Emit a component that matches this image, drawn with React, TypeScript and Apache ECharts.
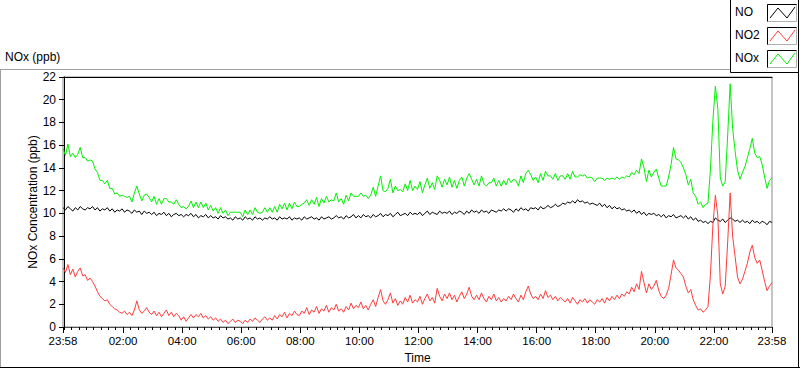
import React, { useEffect, useRef } from "react";
import * as echarts from "echarts";

// ---- data -------------------------------------------------------------
const seriesNames = ["NO", "NO2", "NOx"];
const seriesColors = ["#000000", "#ff3b3b", "#00f000"];

// samples every 5 minutes, first sample at 23:58 of previous day (minute -2)
const startMinute = -2;
const stepMinutes = 5;

const xMin = -2;
const xMax = 1438;
const majorTickMinutes = [-2, 120, 240, 360, 480, 600, 720, 840, 960, 1080, 1200, 1320, 1438];
const majorTickLabels = ["23:58", "02:00", "04:00", "06:00", "08:00", "10:00", "12:00", "14:00", "16:00", "18:00", "20:00", "22:00", "23:58"];

const noValues = [
  10.5, 10.3, 10.6, 10.4, 10.2, 10.5, 10.3, 10.6, 10.4, 10.3, 10.5, 10.4,
  10.6, 10.3, 10.5, 10.2, 10.4, 10.3, 10.5, 10.2, 10.4, 10.1, 10.3, 10.2,
  10.4, 10.1, 10.3, 10.2, 10.0, 10.3, 10.1, 10.2, 9.9, 10.2, 10.0, 10.1,
  9.9, 10.1, 9.8, 10.0, 9.9, 10.1, 9.8, 10.0, 9.7, 9.9, 10.0, 9.8,
  9.9, 9.7, 9.9, 9.8, 10.0, 9.7, 9.9, 9.6, 9.8, 9.7, 9.9, 9.6,
  9.8, 9.6, 9.7, 9.5, 9.8, 9.6, 9.7, 9.5, 9.6, 9.4, 9.7, 9.5,
  9.6, 9.4, 9.7, 9.5, 9.6, 9.4, 9.7, 9.5, 9.6, 9.4, 9.6, 9.5,
  9.7, 9.5, 9.6, 9.4, 9.7, 9.5, 9.6, 9.5, 9.7, 9.4, 9.6, 9.5,
  9.6, 9.4, 9.7, 9.5, 9.6, 9.7, 9.5, 9.6, 9.4, 9.7, 9.5, 9.6,
  9.7, 9.5, 9.6, 9.8, 9.6, 9.7, 9.5, 9.8, 9.6, 9.7, 9.9, 9.6,
  9.8, 9.6, 9.9, 9.7, 9.8, 9.6, 9.9, 9.7, 9.8, 10.0, 9.7, 9.9,
  9.8, 10.0, 9.7, 9.9, 10.1, 9.8, 9.9, 10.0, 9.8, 10.1, 9.9, 10.0,
  9.9, 10.1, 9.8, 10.0, 10.2, 9.9, 10.1, 10.0, 9.9, 10.2, 10.0, 10.1,
  10.0, 10.2, 9.9, 10.1, 10.0, 10.2, 10.1, 9.9, 10.2, 10.0, 10.3, 10.1,
  10.2, 10.0, 10.3, 10.1, 10.2, 10.0, 10.3, 10.2, 10.1, 10.3, 10.2, 10.4,
  10.2, 10.4, 10.3, 10.1, 10.4, 10.2, 10.5, 10.3, 10.4, 10.2, 10.5, 10.4,
  10.5, 10.3, 10.6, 10.4, 10.5, 10.7, 10.5, 10.6, 10.8, 10.6, 10.7, 10.9,
  10.8, 11.0, 10.9, 11.1, 10.9, 11.2, 11.0, 11.1, 10.9, 11.0, 10.8, 10.9,
  10.8, 10.7, 10.9, 10.6, 10.8, 10.5, 10.7, 10.4, 10.6, 10.4, 10.5, 10.3,
  10.4, 10.2, 10.3, 10.1, 10.3, 10.0, 10.2, 9.9, 10.1, 9.8, 10.0, 9.9,
  10.0, 9.8, 9.9, 9.7, 9.9, 9.6, 9.8, 9.7, 9.9, 9.6, 9.7, 9.8,
  9.6, 9.8, 9.5, 9.7, 9.4, 9.6, 9.3, 9.4, 9.2, 9.3, 9.1, 9.3,
  9.2, 9.6, 9.4, 9.3, 9.5, 9.2, 9.4, 9.6, 9.5, 9.3, 9.4, 9.2,
  9.4, 9.2, 9.3, 9.1, 9.4, 9.2, 9.3, 9.1, 9.3, 9.2, 9.0, 9.3,
  9.2,
];

const no2Values = [
  5.2, 4.8, 5.5, 4.6, 5.1, 4.4, 4.9, 5.2, 4.5, 4.6, 4.1, 4.3,
  4.0, 3.6, 3.1, 2.7, 2.5, 2.3, 2.4, 2.0, 1.8, 1.6, 1.5, 1.3,
  1.2, 1.4, 1.1, 1.3, 1.0, 1.5, 2.3, 1.5, 1.2, 1.4, 1.7, 1.3,
  1.1, 1.4, 1.0, 1.3, 0.9, 1.2, 1.5, 1.0, 1.3, 0.9, 1.2, 1.0,
  0.6, 0.9, 0.5, 0.8, 1.1, 0.8, 1.1, 0.9, 1.2, 0.8, 1.0, 0.7,
  0.9, 0.6, 0.8, 0.5, 0.7, 0.4, 0.6, 0.3, 0.5, 0.7, 0.4, 0.6,
  0.5, 0.3, 0.6, 0.4, 0.7, 0.5, 0.8, 0.6, 0.4, 0.7, 0.9, 0.6,
  0.8, 0.6, 1.0, 0.7, 1.1, 0.9, 1.3, 0.8, 1.2, 1.0, 1.4, 1.1,
  1.0, 1.4, 1.2, 1.7, 1.1, 1.5, 1.3, 1.8, 1.2, 1.6, 1.4, 1.9,
  1.3, 1.7, 1.5, 2.0, 1.4, 1.6, 1.3, 1.8, 1.5, 2.1, 1.6, 1.9,
  1.7, 2.2, 1.6, 1.9, 1.5, 2.0, 2.4, 1.8, 2.6, 3.3, 2.3, 2.0,
  2.4, 3.0, 2.1, 2.5, 1.9, 2.3, 2.0, 2.6, 2.2, 2.8, 2.1, 2.4,
  2.2, 2.7, 2.0, 2.5, 2.9, 2.3, 2.6, 2.1, 3.4, 2.7, 2.3, 2.9,
  2.5, 3.0, 2.4, 2.8, 2.2, 2.7, 3.1, 2.5, 2.9, 3.5, 2.7, 2.4,
  2.8, 2.4, 3.0, 2.5, 2.2, 2.7, 2.4, 2.9, 2.3, 2.6, 2.2, 2.5,
  2.3, 2.7, 2.4, 2.9, 2.5, 2.2, 2.8, 2.4, 3.1, 3.6, 2.9, 2.5,
  2.7, 2.4, 2.9, 2.5, 3.2, 2.6, 2.8, 2.4, 2.7, 2.3, 2.6, 2.4,
  2.2, 2.5, 2.1, 2.6, 2.3, 2.0, 2.4, 2.2, 2.5, 2.1, 2.4, 2.2,
  2.0, 2.4, 2.2, 2.5, 2.1, 2.6, 2.3, 2.7, 2.4, 2.8, 2.5, 2.9,
  2.7, 3.1, 2.9, 3.5, 3.1, 3.8, 3.3, 4.9, 3.9, 3.0, 3.8, 3.3,
  3.6, 4.1, 3.2, 2.7, 2.5, 2.8, 3.4, 4.6, 5.9, 5.2, 5.0, 4.7,
  4.4, 3.6, 3.0, 3.3, 2.4, 1.9, 1.5, 1.6, 1.3, 1.5, 1.8, 4.6,
  9.0, 11.6, 9.8, 3.8, 2.9, 3.6, 7.5, 11.8, 8.0, 6.2, 4.4, 3.8,
  4.2, 4.9, 5.6, 6.6, 7.2, 6.1, 5.6, 5.9, 5.0, 4.0, 3.2, 3.6,
  3.9,
];

const noxValues = [
  15.7, 15.1, 16.1, 15.0, 15.3, 14.9, 15.2, 15.8, 14.9, 14.9, 14.6, 14.7,
  14.6, 13.9, 13.6, 12.9, 12.9, 12.6, 12.9, 12.2, 12.2, 11.7, 11.8, 11.5,
  11.6, 11.5, 11.4, 11.5, 11.0, 11.8, 12.4, 11.7, 11.1, 11.6, 11.7, 11.4,
  11.0, 11.5, 10.8, 11.3, 10.8, 11.3, 11.3, 11.0, 11.0, 10.8, 11.2, 10.8,
  10.5, 10.6, 10.4, 10.6, 11.1, 10.5, 11.0, 10.5, 11.0, 10.5, 10.9, 10.3,
  10.7, 10.2, 10.5, 10.0, 10.5, 10.0, 10.3, 9.8, 10.1, 10.1, 10.1, 10.1,
  10.1, 9.7, 10.3, 9.9, 10.3, 9.9, 10.5, 10.1, 10.0, 10.1, 10.5, 10.1,
  10.5, 10.1, 10.6, 10.1, 10.8, 10.4, 10.9, 10.3, 10.9, 10.4, 11.0, 10.6,
  10.6, 10.8, 10.9, 11.2, 10.7, 11.2, 10.8, 11.4, 10.6, 11.3, 10.9, 11.5,
  11.0, 11.2, 11.1, 11.8, 11.0, 11.3, 10.8, 11.6, 11.1, 11.8, 11.5, 11.5,
  11.5, 11.8, 11.5, 11.6, 11.3, 11.6, 12.3, 11.5, 12.4, 13.3, 12.0, 11.9,
  12.2, 13.0, 11.8, 12.4, 12.0, 12.1, 11.9, 12.6, 12.0, 12.9, 12.0, 12.4,
  12.1, 12.8, 11.8, 12.5, 13.1, 12.2, 12.7, 12.1, 13.3, 12.9, 12.3, 13.0,
  12.5, 13.2, 12.3, 12.9, 12.2, 12.9, 13.2, 12.4, 13.1, 13.5, 13.0, 12.5,
  13.0, 12.4, 13.3, 12.6, 12.4, 12.7, 12.7, 13.1, 12.4, 12.9, 12.4, 12.9,
  12.5, 13.1, 12.7, 13.0, 12.9, 12.4, 13.3, 12.7, 13.5, 13.8, 13.4, 12.9,
  13.2, 12.7, 13.5, 12.9, 13.7, 13.3, 13.3, 13.0, 13.5, 12.9, 13.3, 13.3,
  13.0, 13.5, 13.0, 13.7, 13.2, 13.2, 13.4, 13.3, 13.4, 13.1, 13.2, 13.1,
  12.8, 13.1, 13.1, 13.1, 12.9, 13.1, 13.0, 13.1, 13.0, 13.2, 13.0, 13.2,
  13.1, 13.3, 13.2, 13.6, 13.4, 13.8, 13.5, 14.8, 14.0, 12.8, 13.8, 13.2,
  13.6, 13.9, 13.1, 12.4, 12.4, 12.4, 13.2, 14.3, 15.8, 14.8, 14.7, 14.5,
  14.0, 13.4, 12.5, 13.0, 11.8, 11.5, 10.8, 11.0, 10.5, 10.8, 10.9, 13.9,
  18.2, 21.2, 19.2, 13.1, 12.4, 12.8, 16.9, 21.4, 17.5, 15.5, 13.8, 13.0,
  13.6, 14.1, 14.9, 15.7, 16.6, 15.3, 14.9, 15.0, 14.3, 13.2, 12.2, 12.9,
  13.1,
];

const seriesValues = [noValues, no2Values, noxValues];

// ---- chart ------------------------------------------------------------
const FONT = "'Liberation Sans', Arial, sans-serif";

function minuteLabel(v: number): string {
  const idx = majorTickMinutes.indexOf(v);
  return idx >= 0 ? majorTickLabels[idx] : "";
}

export default function App() {
  const ref = useRef<HTMLDivElement>(null);

  useEffect(() => {
    if (!ref.current) return;
    const chart = echarts.init(ref.current, undefined, { renderer: "svg" });

    const minorTicks: number[] = [xMin];
    for (let m = 0; m < xMax; m += 15) minorTicks.push(m);
    minorTicks.push(xMax);

    const legendTops = [4, 27, 50];
    const legendGraphics: any[] = [];
    seriesNames.forEach((name, k) => {
      const top = legendTops[k];
      legendGraphics.push({
        type: "text",
        left: 735,
        top: top + 2,
        style: { text: name, font: `12px ${FONT}`, fill: "#000" },
        z: 10,
      });
      legendGraphics.push({
        type: "rect",
        shape: { x: 767.5, y: top + 0.5, width: 29, height: 17 },
        style: { fill: "#fff", stroke: "#b0b0b0", lineWidth: 1 },
        z: 10,
      });
      legendGraphics.push({
        type: "polyline",
        shape: { points: [[767.5, top + 17.5], [767.5, top + 0.5], [796.5, top + 0.5]] },
        style: { stroke: "#000", lineWidth: 1, fill: null },
        z: 11,
      });
      legendGraphics.push({
        type: "polyline",
        shape: {
          points: [
            [770, top + 14],
            [778, top + 4],
            [787, top + 14],
            [795, top + 3],
          ],
        },
        style: { stroke: seriesColors[k], lineWidth: 1, fill: null },
        z: 11,
      });
    });

    const option: any = {
      animation: false,
      backgroundColor: "#ffffff",
      textStyle: { fontFamily: FONT },
      grid: {
        left: 63,
        right: 28,
        top: 77,
        bottom: 40,
        show: true,
        backgroundColor: "#ffffff",
        borderColor: "#8a8a8a",
        borderWidth: 1,
      },
      xAxis: [
        {
          type: "value",
          min: xMin,
          max: xMax,
          axisLine: { show: true, lineStyle: { color: "#505050", width: 1 } },
          axisTick: {
            show: true,
            inside: false,
            length: 3,
            customValues: minorTicks,
            lineStyle: { color: "#000" },
          },
          axisLabel: { show: false },
          splitLine: { show: false },
          name: "Time",
          nameLocation: "middle",
          nameGap: 25,
          nameMoveOverlap: false,
          nameTextStyle: { fontFamily: FONT, fontSize: 12, color: "#000" },
        },
        {
          type: "value",
          min: xMin,
          max: xMax,
          position: "bottom",
          axisLine: { show: false },
          axisTick: {
            show: true,
            inside: false,
            length: 6,
            customValues: majorTickMinutes,
            lineStyle: { color: "#000" },
          },
          axisLabel: {
            show: true,
            customValues: majorTickMinutes,
            formatter: (v: number) => minuteLabel(v),
            fontFamily: FONT,
            fontSize: 11.5,
            color: "#000",
            margin: 8,
            showMinLabel: true,
            showMaxLabel: true,
          },
          splitLine: { show: false },
        },
        {
          type: "value",
          min: xMin,
          max: xMax,
          position: "top",
          axisLine: { show: true, lineStyle: { color: "#000", width: 1 } },
          axisTick: { show: false },
          axisLabel: { show: false },
          splitLine: { show: false },
        },
      ],
      yAxis: {
        type: "value",
        min: 0,
        max: 22,
        interval: 2,
        axisLine: { show: true, lineStyle: { color: "#000", width: 1 } },
        axisTick: { show: true, inside: false, length: 5, lineStyle: { color: "#000" } },
        axisLabel: {
          fontFamily: FONT,
          fontSize: 12,
          color: "#000",
          margin: 7,
        },
        splitLine: { show: false },
        name: "NOx Concentration (ppb)",
        nameLocation: "middle",
        nameRotate: 90,
        nameGap: 24,
        nameMoveOverlap: false,
        nameTextStyle: { fontFamily: FONT, fontSize: 12, color: "#000" },
      },
      series: seriesNames.map((name, k) => ({
        name,
        type: "line",
        xAxisIndex: 0,
        yAxisIndex: 0,
        showSymbol: false,
        symbol: "none",
        lineStyle: { color: seriesColors[k], width: 1 },
        itemStyle: { color: seriesColors[k] },
        data: seriesValues[k].map((v, i) => [startMinute + stepMinutes * i, v]),
        z: 3 + k,
      })),
      graphic: [
        // outer chart frame
        {
          type: "line",
          shape: { x1: 0, y1: 69.5, x2: 731, y2: 69.5 },
          style: { stroke: "#a0a0a0", lineWidth: 1 },
        },
        {
          type: "line",
          shape: { x1: 0.5, y1: 69.5, x2: 0.5, y2: 368 },
          style: { stroke: "#a0a0a0", lineWidth: 1 },
        },
        {
          type: "line",
          shape: { x1: 0, y1: 367.5, x2: 800, y2: 367.5 },
          style: { stroke: "#000", lineWidth: 1 },
        },
        {
          type: "line",
          shape: { x1: 798.5, y1: 0, x2: 798.5, y2: 368 },
          style: { stroke: "#000", lineWidth: 1 },
        },
        // plot title
        {
          type: "text",
          left: 5,
          top: 51,
          style: { text: "NOx (ppb)", font: `12px ${FONT}`, fill: "#000" },
        },
        // legend box
        {
          type: "rect",
          shape: { x: 730.5, y: -1, width: 68, height: 73.5 },
          style: { fill: "#fff", stroke: "#000", lineWidth: 1 },
          z: 9,
        },
        ...legendGraphics,
      ],
    };

    chart.setOption(option);
    return () => chart.dispose();
  }, []);

  return (
    <div
      ref={ref}
      style={{ position: "fixed", left: 0, top: 0, width: 800, height: 369, background: "#fff" }}
    />
  );
}
